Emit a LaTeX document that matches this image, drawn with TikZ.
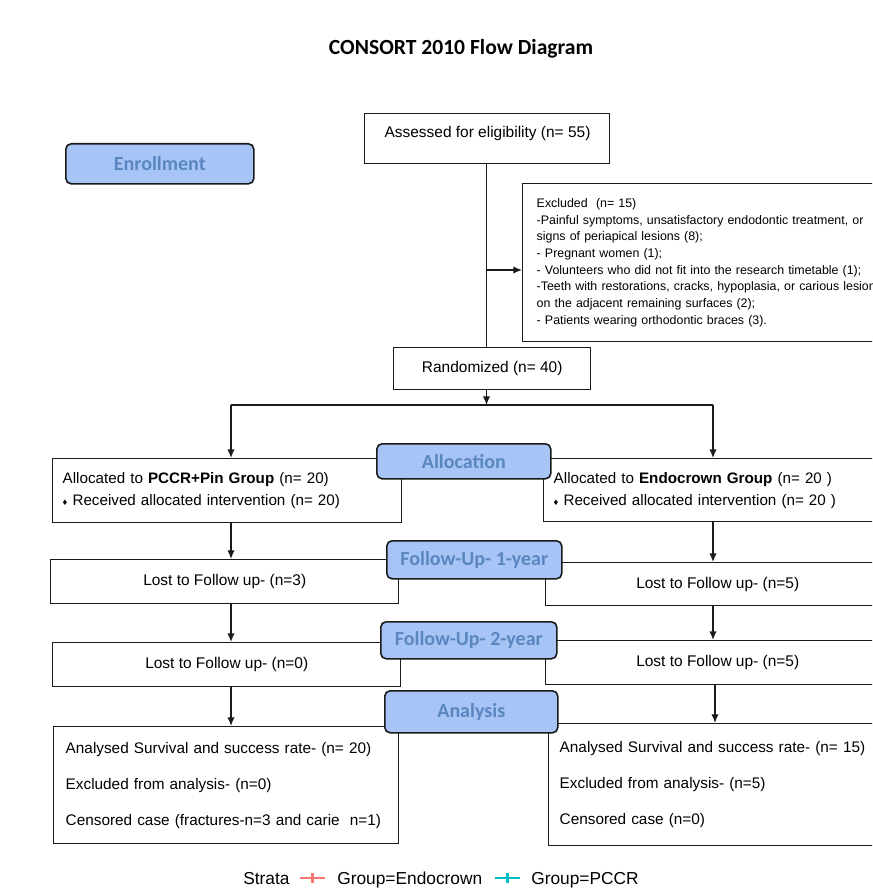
\documentclass[tikz,border=0pt]{standalone}
\usepackage{fontspec}
\setmainfont{Liberation Sans}
\newfontfamily\calib{Carlito}
\usetikzlibrary{arrows.meta}
\newcommand\pxu{0.75pt}
\definecolor{lblfill}{HTML}{A6C4F6}
\definecolor{lbltext}{HTML}{5A87BF}
\definecolor{lnc}{HTML}{1A1A1A}
\definecolor{strred}{HTML}{F8766D}
\definecolor{strteal}{HTML}{00BFC4}
\begin{document}
\begin{tikzpicture}[x=0.75pt,y=-0.75pt,
 box/.style={draw=lnc, line width=1.1pt, fill=white, inner sep=0pt, anchor=north west},
 stage/.style={draw=lnc, line width=1.2pt, fill=lblfill, rounded corners=4pt, anchor=north west, inner sep=0pt, text=lbltext, font=\calib\bfseries\fontsize{15}{18}\selectfont},
 arr/.style={-{Latex[length=6.5pt,width=5.5pt]}, line width=1pt, draw=lnc},
 ln/.style={line width=1pt, draw=lnc},
 mainf/.style={font=\fontsize{11.6}{13}\selectfont},
 allocf/.style={font=\fontsize{11.4}{16.5}\selectfont, align=left},
 anaf/.style={font=\fontsize{11.5}{27}\selectfont, align=left},
 legf/.style={font=\fontsize{13}{15}\selectfont, anchor=base west, inner sep=0pt},
 crossr/.style={line width=2.2pt, draw=strred},
 crosst/.style={line width=2.2pt, draw=strteal}
]
\useasboundingbox (0,0) rectangle (872,888);
\clip (0,0) rectangle (872,888);
\fill[white] (0,0) rectangle (872,888);

\node[font=\calib\bfseries\fontsize{16.2}{19}\selectfont] (title) at (461,49) {CONSORT 2010 Flow Diagram};

\coordinate (cL) at (231,0);
\coordinate (cR) at (713,0);

% enrollment
\node[box, minimum width=245*\pxu, minimum height=50*\pxu] (assess) at (364,113) {};
\node[mainf, inner sep=0pt] (assesstxt) at (487.5,133.5) {Assessed for eligibility (n= 55)};
\node[box, minimum height=158*\pxu, text width=400*\pxu, inner xsep=14*\pxu, align=left, font=\fontsize{9.3}{12.5}\selectfont] (excl) at (522,183)
 {Excluded~ (n= 15)\\
 -Painful symptoms, unsatisfactory endodontic treatment, or\\
 signs of periapical lesions (8);\\
 - Pregnant women (1);\\
 - Volunteers who did not fit into the research timetable (1);\\
 -Teeth with restorations, cracks, hypoplasia, or carious lesions\\
 on the adjacent remaining surfaces (2);\\
 - Patients wearing orthodontic braces (3).};
\node[box, minimum width=197*\pxu, minimum height=42*\pxu, mainf] (rand) at (393,347) {Randomized (n= 40)};

\coordinate (branch) at (486.5,270);
\coordinate (split) at (486.5,405);
\draw[ln] (assess.south -| branch) -- (rand.north -| branch);
\draw[arr] (branch) -- (branch -| excl.west);
\draw[arr] (rand.south -| split) -- (split);

% allocation
\node[box, minimum height=64*\pxu, text width=329*\pxu, inner xsep=10*\pxu, allocf] (allocL) at (52,458)
 {Allocated to \textbf{PCCR+Pin Group} (n= 20)\\ {\fontsize{7}{8}\selectfont ♦} Received allocated intervention (n= 20)};
\node[box, minimum height=63*\pxu, text width=340*\pxu, inner xsep=10*\pxu, allocf] (allocR) at (543,458)
 {Allocated to \textbf{Endocrown Group} (n= 20 )\\ {\fontsize{7}{8}\selectfont ♦} Received allocated intervention (n= 20 )};
\draw[ln] (split -| cL) -- (split -| cR);
\draw[arr] (split -| cL) -- (allocL.north -| cL);
\draw[arr] (split -| cR) -- (allocR.north -| cR);

% follow up 1
\node[box, minimum width=348*\pxu, minimum height=44*\pxu, mainf] (lost1L) at (50,559) {Lost to Follow up- (n=3)};
\node[box, minimum width=344*\pxu, minimum height=43*\pxu, mainf] (lost1R) at (545,562) {Lost to Follow up- (n=5)};
\draw[arr] (allocL.south -| cL) -- (lost1L.north -| cL);
\draw[arr] (allocR.south -| cR) -- (lost1R.north -| cR);

% follow up 2
\node[box, minimum width=348*\pxu, minimum height=44*\pxu, mainf] (lost2L) at (52,642) {Lost to Follow up- (n=0)};
\node[box, minimum width=344*\pxu, minimum height=44*\pxu, mainf] (lost2R) at (545,640) {Lost to Follow up- (n=5)};
\draw[arr] (lost1L.south -| cL) -- (lost2L.north -| cL);
\draw[arr] (lost1R.south -| cR) -- (lost2R.north -| cR);

% analysis
\node[box, minimum height=117*\pxu, text width=321*\pxu, inner xsep=12*\pxu, anaf] (anaL) at (53,726)
 {Analysed Survival and success rate- (n= 20)\\ Excluded from analysis- (n=0)\\ Censored case (fractures-n=3 and carie~ n=1)};
\node[box, minimum height=122*\pxu, text width=338*\pxu, inner xsep=11*\pxu, anaf] (anaR) at (548,723)
 {Analysed Survival and success rate- (n= 15)\\ Excluded from analysis- (n=5)\\ Censored case (n=0)};
\draw[arr] (lost2L.south -| cL) -- (anaL.north -| cL);
\draw[arr] (lost2R.south -| cR) ++(2,0) coordinate (r2) -- (r2 |- anaR.north);

% stage labels
\node[stage, minimum width=188*\pxu, minimum height=40*\pxu] (enroll) at (65,143) {Enrollment};
\node[stage, minimum width=174*\pxu, minimum height=35*\pxu] (allocation) at (376,443) {Allocation};
\node[stage, minimum width=175*\pxu, minimum height=38*\pxu] (fu1) at (386,540) {Follow-Up- 1-year};
\node[stage, minimum width=176*\pxu, minimum height=37*\pxu] (fu2) at (380,621) {Follow-Up- 2-year};
\node[stage, minimum width=173*\pxu, minimum height=42*\pxu] (analysis) at (384,690) {Analysis};

% legend
\node[legf] (strata) at (243,884) {Strata};
\draw[crossr] (300,878) -- (325,878);
\draw[crossr] (312.5,873) -- (312.5,883);
\node[legf] (gendo) at (337,884) {Group=Endocrown};
\draw[crosst] (495,878) -- (520,878);
\draw[crosst] (507.5,873) -- (507.5,883);
\node[legf] (gpccr) at (531,884) {Group=PCCR};
\end{tikzpicture}
\end{document}
